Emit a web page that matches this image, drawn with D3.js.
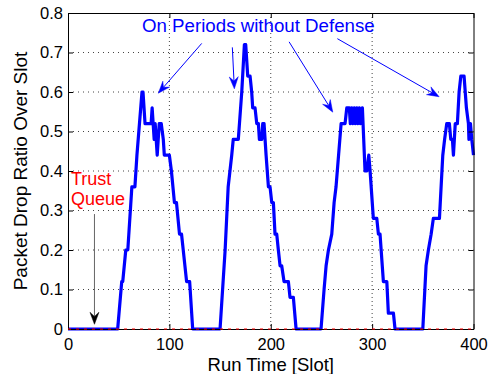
<!DOCTYPE html>
<html>
<head>
<meta charset="utf-8">
<script src="https://cdn.jsdelivr.net/npm/d3@7"></script>
<style>
  body { margin: 0; background: #fff; }
  svg { display: block; font-family: "Liberation Sans", Arial, Helvetica, sans-serif; }
</style>
</head>
<body>
<div id="canvas"></div>
<script>
// blue curve: break points (run time in slots, drop ratio)
var runSlots = [
  0, 49, 53, 54, 57, 59, 63, 66, 68, 73, 74, 76, 82, 83, 85, 86, 88, 90, 92, 94, 95, 100,
  102, 105, 107, 110, 112, 117, 120, 123,
  150, 155, 158, 161.5, 163, 168, 171.4, 174, 175.3, 177.3, 179.6, 181.2, 182.2, 184.5,
  186.2, 187.8, 188.8, 191.1, 192.1, 193.4, 195.4, 197.7, 199.3, 201, 202.6, 204.2, 205.9,
  207.5, 209.2, 210.8, 213.1, 217.4, 219, 222.3, 225,
  249.6, 252.6, 254.6, 256.9, 260.2, 262.5, 264.4, 269.4, 273.3, 275, 277.5, 278.5, 280,
  281, 282.5, 283.5, 285, 286, 287.5, 288.5, 290.4, 293, 294.7, 296.7, 298, 301.2, 304.6,
  306.2, 307.8, 311.1, 314.5, 316, 321, 322.6,
  350, 353.2, 355.5, 358.2, 360.4, 366.4, 369.7, 371.5, 373.6, 376.2, 377.6, 379.2, 380.2,
  382, 384.1, 385.8, 387.5, 390.7, 393, 395, 395.5, 397, 398.3, 400
];
var dropRatio = [
  0, 0, 0.12, 0.12, 0.2, 0.2, 0.36, 0.36, 0.44, 0.6, 0.6, 0.52, 0.52, 0.56, 0.48, 0.52, 0.44, 0.52, 0.52, 0.48, 0.44, 0.44,
  0.4, 0.32, 0.32, 0.24, 0.24, 0.12, 0.12, 0,
  0, 0.2, 0.36, 0.44, 0.48, 0.48, 0.6, 0.72, 0.72, 0.64, 0.64, 0.6, 0.56, 0.56,
  0.52, 0.52, 0.48, 0.48, 0.52, 0.52, 0.44, 0.36, 0.36, 0.32, 0.32, 0.24, 0.24,
  0.2, 0.16, 0.16, 0.12, 0.12, 0.08, 0.08, 0,
  0, 0.1, 0.16, 0.2, 0.24, 0.32, 0.36, 0.52, 0.52, 0.56, 0.56, 0.52, 0.56,
  0.52, 0.56, 0.52, 0.56, 0.52, 0.56, 0.52, 0.56, 0.4, 0.4, 0.44, 0.4, 0.28, 0.28,
  0.24, 0.24, 0.12, 0.12, 0.04, 0.04, 0,
  0, 0.16, 0.2, 0.24, 0.28, 0.28, 0.44, 0.48, 0.52, 0.52, 0.48, 0.48, 0.44,
  0.52, 0.52, 0.6, 0.64, 0.64, 0.56, 0.52, 0.48, 0.52, 0.48, 0.44
];

// red dashed curve (trust queue), zero all along
var trustSlots = [0, 400];
var trustRatio = [0, 0];

var xTicks = [0, 100, 200, 300, 400];
var yTicks = [0, 0.1, 0.2, 0.3, 0.4, 0.5, 0.6, 0.7, 0.8];
var yTickLabels = ["0", "0.1", "0.2", "0.3", "0.4", "0.5", "0.6", "0.7", "0.8"];

// annotations, in data units [slot, ratio]
var onLabel = "On Periods without Defense";
var onLabelAt = [73, 0.752];
var onArrowFrom = [[131.9, 0.723], [162.1, 0.713], [218.1, 0.727], [265.7, 0.735]];
var onArrowTo = [[89.1, 0.597], [164.1, 0.608], [261.2, 0.549], [366.1, 0.588]];
var trustLabel = ["Trust", "Queue"];
var trustLabelAt = [3, 0.365];
var trustArrowFrom = [26.1, 0.291];
var trustArrowTo = [26.1, 0.012];

var width = 493, height = 374;
var margin = {top: 13, right: 19.5, bottom: 45, left: 68};
var w = width - margin.left - margin.right;
var h = height - margin.top - margin.bottom;

var svg = d3.select("#canvas").append("svg")
    .attr("width", width)
    .attr("height", height);
var g = svg.append("g")
    .attr("transform", "translate(" + margin.left + "," + margin.top + ")");

var x = d3.scaleLinear().domain([0, 400]).range([0, w]);
var y = d3.scaleLinear().domain([0, 0.8]).range([h, 0]);

// grid
g.selectAll(".vgrid").data(xTicks.slice(1, -1)).enter().append("line")
    .attr("x1", d => x(d)).attr("x2", d => x(d))
    .attr("y1", 0).attr("y2", h)
    .style("stroke", "#444").style("stroke-width", 1)
    .style("stroke-dasharray", "1,3");
g.selectAll(".hgrid").data(yTicks.slice(1, -1)).enter().append("line")
    .attr("x1", 0).attr("x2", w)
    .attr("y1", d => y(d)).attr("y2", d => y(d))
    .style("stroke", "#444").style("stroke-width", 1)
    .style("stroke-dasharray", "1,4");

// blue curve
var onData = runSlots.map((s, i) => [s, dropRatio[i]]);
var line = d3.line().x(d => x(d[0])).y(d => y(d[1]));
g.append("path")
    .datum(onData)
    .attr("d", line)
    .style("fill", "none")
    .style("stroke", "#0000ff")
    .style("stroke-width", 3.2)
    .style("stroke-linejoin", "round");

// axes: ticks inward on all four sides
function styleAxis(sel) {
    sel.selectAll("path").style("stroke", "#000").style("stroke-width", 1);
    sel.selectAll("line").style("stroke", "#000");
    sel.selectAll("text").style("font-size", "16.5px").style("fill", "#000")
        .style("font-family", "'Liberation Sans', Arial, sans-serif");
}
g.append("g")
    .attr("transform", "translate(0," + h + ")")
    .call(d3.axisBottom(x).tickValues(xTicks).tickSizeInner(-5).tickSizeOuter(0).tickPadding(9))
    .call(styleAxis);
g.append("g")
    .call(d3.axisLeft(y).tickValues(yTicks).tickFormat((d, i) => yTickLabels[i])
        .tickSizeInner(-5).tickSizeOuter(0).tickPadding(5))
    .call(styleAxis);
g.append("g")
    .call(d3.axisTop(x).tickValues(xTicks).tickFormat("").tickSizeInner(-5).tickSizeOuter(0))
    .call(styleAxis);
g.append("g")
    .attr("transform", "translate(" + w + ",0)")
    .call(d3.axisRight(y).tickValues(yTicks).tickFormat("").tickSizeInner(-5).tickSizeOuter(0))
    .call(styleAxis);

// red dashed trust queue line
var trustData = trustSlots.map((s, i) => [s, trustRatio[i]]);
g.append("path")
    .datum(trustData)
    .attr("d", line)
    .style("fill", "none")
    .style("stroke", "#ff0000")
    .style("stroke-width", 1)
    .style("stroke-dasharray", "3,5");

// arrows
function arrow(from, to, lineColor, headColor) {
    var x1 = x(from[0]), y1 = y(from[1]), x2 = x(to[0]), y2 = y(to[1]);
    var dx = x2 - x1, dy = y2 - y1, len = Math.sqrt(dx * dx + dy * dy);
    var ux = dx / len, uy = dy / len, nx = -uy, ny = ux;
    var L = 12, W = 9;
    var bx = x2 - ux * L, by = y2 - uy * L;
    var mx = x2 - ux * L * 0.65, my = y2 - uy * L * 0.65;
    g.append("line")
        .attr("x1", x1).attr("y1", y1).attr("x2", mx).attr("y2", my)
        .style("stroke", lineColor).style("stroke-width", 1);
    g.append("path")
        .attr("d", "M" + x2 + "," + y2 +
            "L" + (bx + nx * W / 2) + "," + (by + ny * W / 2) +
            "L" + mx + "," + my +
            "L" + (bx - nx * W / 2) + "," + (by - ny * W / 2) + "Z")
        .style("fill", headColor).style("stroke", headColor).style("stroke-width", 0.5);
}
onArrowFrom.forEach((f, i) => arrow(f, onArrowTo[i], "#0000ff", "#0000ff"));
arrow(trustArrowFrom, trustArrowTo, "#666", "#000");

// annotation text
g.append("text")
    .attr("x", x(onLabelAt[0])).attr("y", y(onLabelAt[1]))
    .text(onLabel)
    .style("fill", "#0000ff").style("font-size", "18.7px");
g.selectAll(".trust").data(trustLabel).enter().append("text")
    .attr("x", x(trustLabelAt[0]))
    .attr("y", (d, i) => y(trustLabelAt[1]) + i * 20)
    .text(d => d)
    .style("fill", "#ff0000").style("font-size", "18px");

// axis titles
svg.append("text")
    .text("Run Time [Slot]")
    .attr("x", margin.left + w / 2)
    .attr("y", 370.5)
    .style("text-anchor", "middle")
    .style("font-size", "18.5px");
svg.append("text")
    .text("Packet Drop Ratio Over Slot")
    .attr("transform", "translate(27," + (margin.top + h / 2) + ") rotate(-90)")
    .style("text-anchor", "middle")
    .style("font-size", "19px");
</script>
</body>
</html>
